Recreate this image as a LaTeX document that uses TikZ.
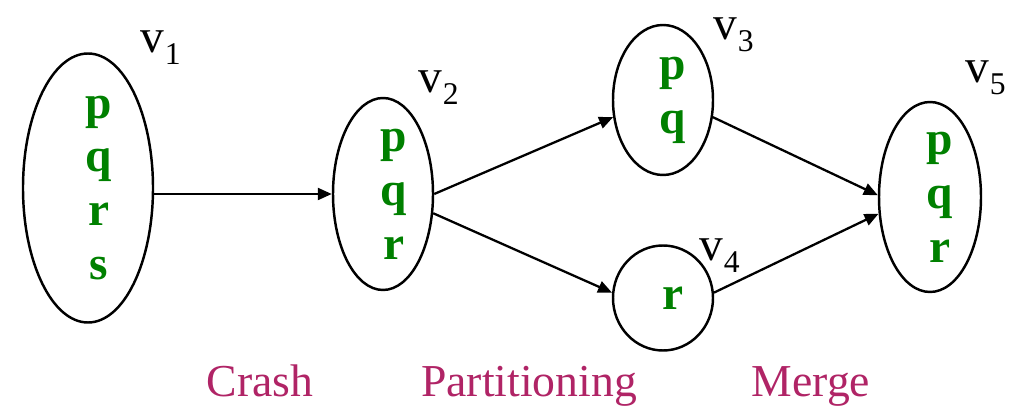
\documentclass[tikz,border=0pt]{standalone}
\usepackage{fontspec}
\setmainfont{Liberation Serif}
\usetikzlibrary{arrows.meta,positioning,shapes.geometric}
\definecolor{setgreen}{HTML}{008000}
\definecolor{stage}{HTML}{B02466}
% vertex name with a lowered index
\newcommand{\vx}[1]{v\kern0.5pt\raisebox{-0.24cm}{\fontsize{18}{18}\selectfont #1}}

\begin{document}
\begin{tikzpicture}[
    vertex/.style={ellipse, draw, line width=1.4pt, minimum width=2cm, inner sep=0pt},
    procs/.style={align=center, inner sep=0pt, text=setgreen,
                  font=\fontsize{27}{30.7}\selectfont\bfseries},
    vname/.style={anchor=base west, inner sep=0pt, font=\fontsize{27}{27}\selectfont},
    stagename/.style={anchor=base, inner sep=0pt, text=stage, font=\fontsize{26}{26}\selectfont},
    arr/.style={-{Triangle[length=0.28cm,width=0.24cm]}, line width=1.3pt}
  ]
  \useasboundingbox (0,0) rectangle (20.26,8.26);

  % the five views
  \node[vertex, minimum width=2.6cm, minimum height=5.38cm] (v1) at (1.76,4.50) {};
  \node[vertex, minimum height=3.84cm] (v2) at (7.66,4.38) {};
  \node[vertex, minimum height=3.0cm] (v3) at (13.26,6.26) {};
  \node[vertex, minimum height=2.1cm] (v4) at (13.26,2.30) {};
  \node[vertex, minimum width=2.04cm, minimum height=3.8cm] (v5) at (18.60,4.32) {};

  % members of each view
  \node[procs] (p1) at ([xshift=0.22cm]v1.center) {p\\q\\r\\s};
  \node[procs] (p2) at ([xshift=0.22cm]v2.center) {p\\q\\r};
  \node[procs] (p3) at ([xshift=0.2cm]v3.center) {p\\q};
  \node[procs] (p4) at ([xshift=0.2cm]v4.center) {r};
  \node[procs] (p5) at ([xshift=0.2cm]v5.center) {p\\q\\r};

  % names
  \node[vname] (n1) at (2.80,7.20) {\vx{1}};
  \node[vname] (n2) at (8.36,6.40) {\vx{2}};
  \node[vname] (n3) at (14.26,7.46) {\vx{3}};
  \node[vname] (n4) at (13.98,3.04) {\vx{4}};
  \node[vname] (n5) at (19.30,6.60) {\vx{5}};

  % transitions
  \draw[arr] (v2.west -| v1.east) -- (v2.west);
  \draw[arr] (v2.east) -- (v3.199);
  \draw[arr] (v2.-21) -- (v4.174);
  \draw[arr] (v3.-19) -- (v5.178);
  \draw[arr] (v4.6) -- (v5.198);

  \node[stagename] (crash) at (5.20,0.32) {Crash};
  \node[stagename] (part) at (10.58,0.32) {Partitioning};
  \node[stagename] (merge) at (16.22,0.32) {Merge};
\end{tikzpicture}
\end{document}
